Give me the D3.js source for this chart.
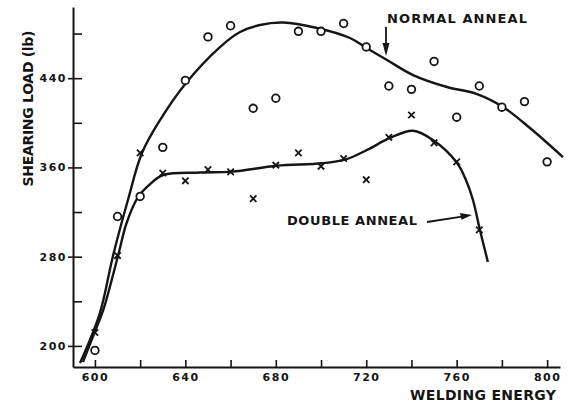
<html>
<head>
<script src="https://cdn.jsdelivr.net/npm/d3@7"></script>
<style>
  body { margin: 0; background: #fff; }
  svg text { font-family: "DejaVu Sans", Arial, sans-serif; font-weight: bold; fill: #151515; }
</style>
</head>
<body>
<svg id="chart"></svg>
<script>
// tick values
let xTicks = [600, 620, 640, 660, 680, 700, 720, 740, 760, 780, 800];
let xLabels = [600, 640, 680, 720, 760, 800];
let yTicks = [200, 240, 280, 320, 360, 400, 440, 480];
let yLabels = [200, 280, 360, 440];

// measured points, normal anneal (circles)
let normalEnergy = [600, 610, 620, 630, 640, 650, 660, 670, 680, 690, 700, 710, 720, 730, 740, 750, 760, 770, 780, 790, 800];
let normalLoad = [196, 316, 334, 378, 438, 477, 487, 413, 422, 482, 482, 489, 468, 433, 430, 455, 405, 433, 414, 419, 365];

// measured points, double anneal (crosses)
let doubleEnergy = [600, 610, 620, 630, 640, 650, 660, 670, 680, 690, 700, 710, 720, 730, 740, 750, 760, 770];
let doubleLoad = [212, 281, 373, 355, 348, 358, 356, 332, 362, 373, 361, 368, 349, 387, 407, 382, 365, 304];

// hand drawn fitted curves
let normalCurve = [[593.4, 184.7], [602.2, 229.5], [607.9, 280.0], [614.6, 330.8], [620.8, 372.9], [628.8, 402.5],
  [640.3, 435.7], [655.3, 467.9], [664.2, 481.4], [673.0, 487.7], [683.2, 489.9], [698.2, 485.0],
  [712.8, 476.0], [719.9, 467.3], [729.2, 456.3], [740.7, 442.8], [755.7, 432.1], [769.0, 425.8], [780.5, 414.2],
  [792.4, 395.3], [807.0, 369.3]];
let doubleCurve = [[594.7, 185.6], [600.8, 217.0], [603.7, 232.2], [610.3, 281.5], [614.0, 310.2], [619.2, 333.8],
  [624.4, 345.1], [630.2, 353.2], [646.5, 355.4], [660.6, 356.2], [680.5, 361.5], [700.4, 363.7], [711.0, 367.3],
  [720.3, 375.6], [730.5, 386.4], [740.7, 392.9], [749.5, 384.6], [760.1, 364.2], [764.1, 348.7], [767.2, 330.8],
  [770.3, 303.9], [773.8, 275.2]];

let width = 568, height = 408;
let ink = "#151515";

let svg = d3.select("#chart").attr("width", width).attr("height", height);

let x = d3.scaleLinear().domain([590.3, 805.7]).range([73, 560]);
let y = d3.scaleLinear().domain([181.1, 503.8]).range([367, 7]);

// axes
let axisX = d3.axisBottom(x)
  .tickValues(xTicks)
  .tickSizeInner(-7)
  .tickSizeOuter(0)
  .tickPadding(6)
  .tickFormat(d => xLabels.includes(d) ? d : "");

let gx = svg.append("g")
  .attr("transform", `translate(0,${y.range()[0]})`)
  .call(axisX);

let axisY = d3.axisLeft(y)
  .tickValues(yTicks)
  .tickSizeInner(-9)
  .tickSizeOuter(0)
  .tickPadding(6)
  .tickFormat(d => yLabels.includes(d) ? d : "");

let gy = svg.append("g")
  .attr("transform", `translate(${x.range()[0]},0)`)
  .call(axisY);

// labelled y ticks poke out a little on the left
gy.selectAll(".tick").filter(d => yLabels.includes(d))
  .append("line").attr("x1", -5).attr("x2", 0).attr("stroke", ink).attr("stroke-width", 1.6);

[gx, gy].forEach(g => {
  g.select(".domain").attr("stroke", ink).attr("stroke-width", 2);
  g.selectAll(".tick line").attr("stroke", ink).attr("stroke-width", 1.6);
  g.selectAll(".tick text")
    .style("font-size", "11px")
    .style("letter-spacing", "1.5px")
    .attr("fill", ink);
});

// fitted curves
let line = d3.line()
  .x(d => x(d[0]))
  .y(d => y(d[1]))
  .curve(d3.curveCatmullRom.alpha(0.5));

svg.append("path").datum(normalCurve)
  .attr("d", line).attr("fill", "none").attr("stroke", ink).attr("stroke-width", 2.4);
svg.append("path").datum(doubleCurve)
  .attr("d", line).attr("fill", "none").attr("stroke", ink).attr("stroke-width", 2.4);

// circles
svg.selectAll(".normal").data(normalEnergy).enter().append("circle")
  .attr("cx", d => x(d))
  .attr("cy", (d, i) => y(normalLoad[i]))
  .attr("r", 3.8)
  .attr("fill", "#fff")
  .attr("stroke", ink)
  .attr("stroke-width", 1.8);

// crosses
let s = 3.2;
svg.selectAll(".double").data(doubleEnergy).enter().append("path")
  .attr("transform", (d, i) => `translate(${x(d)},${y(doubleLoad[i])})`)
  .attr("d", `M${-s},${-s}L${s},${s}M${-s},${s}L${s},${-s}`)
  .attr("stroke", ink)
  .attr("stroke-width", 1.8)
  .attr("fill", "none");

// axis titles
svg.append("text")
  .attr("x", 410).attr("y", 400)
  .attr("textLength", 146).attr("lengthAdjust", "spacing")
  .style("font-size", "14px")
  .text("WELDING ENERGY");

svg.append("text")
  .attr("transform", "translate(33,186.5) rotate(-90)")
  .attr("textLength", 156).attr("lengthAdjust", "spacing")
  .style("font-size", "14px")
  .text("SHEARING LOAD (lb)");

// annotations
svg.append("text")
  .attr("x", 387).attr("y", 23)
  .attr("textLength", 140).attr("lengthAdjust", "spacing")
  .style("font-size", "13px")
  .text("NORMAL ANNEAL");

svg.append("text")
  .attr("x", 287).attr("y", 225)
  .attr("textLength", 130).attr("lengthAdjust", "spacing")
  .style("font-size", "13px")
  .text("DOUBLE ANNEAL");

// arrows
svg.append("line").attr("x1", 386).attr("y1", 27).attr("x2", 386).attr("y2", 46)
  .attr("stroke", ink).attr("stroke-width", 1.8);
svg.append("path").attr("d", "M382.5,43L389.5,43L386,56Z").attr("fill", ink);

svg.append("line").attr("x1", 427).attr("y1", 222).attr("x2", 462).attr("y2", 216.6)
  .attr("stroke", ink).attr("stroke-width", 1.8);
svg.append("path").attr("d", "M460,213L472,215L461.5,219.8Z").attr("fill", ink);
</script>
</body>
</html>
